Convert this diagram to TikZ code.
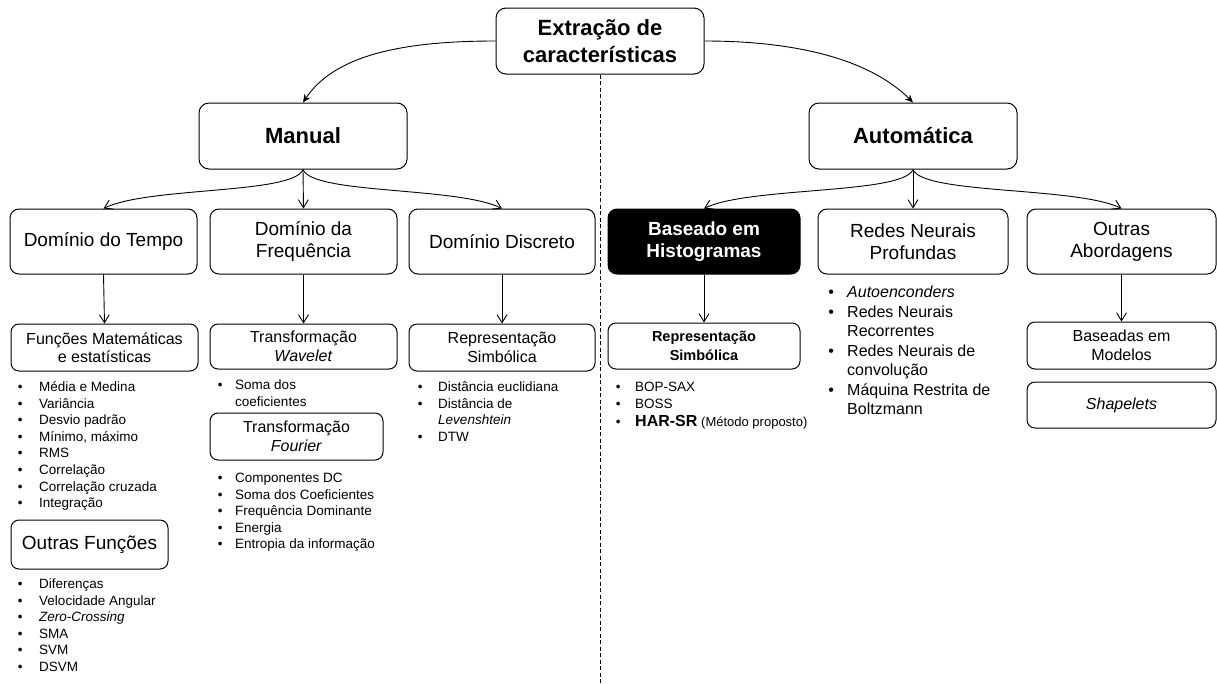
\documentclass[tikz,border=0pt]{standalone}
\usepackage{fontspec}
\setmainfont{Liberation Sans}
\usetikzlibrary{arrows.meta}
\newcommand{\blist}[2]{\begin{tabular}[t]{@{}l@{\hspace{#1}}l@{}}#2\end{tabular}}
\newcommand{\setfs}[2]{\fontsize{#1}{#2}\selectfont}
\begin{document}
\begin{tikzpicture}[x=1pt,y=1pt,
  box/.style={draw, line width=1pt, rounded corners=8pt, align=center, inner sep=0pt},
  lvl1/.style={box, rounded corners=10pt, minimum width=208pt, minimum height=66pt, font=\setfs{22}{27}\bfseries},
  lvl2/.style={box, rounded corners=9pt, minimum height=65pt, font=\setfs{19}{22}},
  lvl3/.style={box, font=\setfs{16}{18.5}},
  arr/.style={line width=0.9pt, -{Straight Barb[length=8pt,width=10pt]}},
  tarr/.style={line width=0.9pt, -{Stealth[length=8pt,width=7pt]}},
  lst/.style={anchor=base west, inner sep=0pt, font=\setfs{13.5}{16.6}},
]
\useasboundingbox (0,0) rectangle (1217,-683);

% top
\node[lvl1] (title) at (600,-41) {Extração de\\características};
\node[lvl1] (manual) at (303,-136) {Manual};
\node[lvl1] (auto) at (913,-136) {Automática};

% level 2
\node[lvl2, minimum width=187pt] (tempo) at (103.5,-241.5) {Domínio do Tempo};
\node[lvl2, minimum width=187pt] (freq) at (303.5,-241.5) {Domínio da\\Frequência};
\node[lvl2, minimum width=186pt] (disc) at (502,-241.5) {Domínio Discreto};
\node[lvl2, minimum width=192pt, fill=black, text=white, font=\setfs{19}{22}\bfseries] (hist) at (704,-241.5) {Baseado em\\Histogramas};
\node[lvl2, minimum width=190pt] (redes) at (913,-241.5) {Redes Neurais\\Profundas};
\node[lvl2, minimum width=189pt] (outras) at (1121.5,-241.5) {Outras\\Abordagens};

% level 3
\node[lvl3, minimum width=187pt, minimum height=47pt] (func) at (104.5,-347.5) {Funções Matemáticas\\e estatísticas};
\node[lvl3, minimum width=157pt, minimum height=49pt, font=\setfs{19}{22}] (outf) at (89.5,-544.5) {Outras Funções};
\node[lvl3, minimum width=187pt, minimum height=45pt] (wave) at (303.5,-346.5) {Transformação\\\textit{Wavelet}};
\node[lvl3, minimum width=173pt, minimum height=47pt] (four) at (296.5,-436.5) {Transformação\\\textit{Fourier}};
\node[lvl3, minimum width=186pt, minimum height=47pt] (repr) at (502,-347.5) {Representação\\Simbólica};
\node[lvl3, minimum width=192pt, minimum height=46pt, font=\setfs{14.5}{19}\bfseries] (hrepr) at (704,-346) {Representação\\Simbólica};
\node[lvl3, minimum width=189pt, minimum height=47pt] (model) at (1121.5,-345.5) {Baseadas em\\Modelos};
\node[lvl3, minimum width=189pt, minimum height=46pt] (shape) at (1121.5,-405) {\textit{Shapelets}};

% lists
\node[lst] (l1) at (17.7,-391.5) {\blist{16.6pt}{%
  • & Média e Medina\\
  • & Variância\\
  • & Desvio padrão\\
  • & Mínimo, máximo\\
  • & RMS\\
  • & Correlação\\
  • & Correlação cruzada\\
  • & Integração}};
\node[lst] (l2) at (17.7,-588.5) {\blist{16.6pt}{%
  • & Diferenças\\
  • & Velocidade Angular\\
  • & \textit{Zero-Crossing}\\
  • & SMA\\
  • & SVM\\
  • & DSVM}};
\node[lst] (l3) at (217.7,-389.5) {\blist{12.6pt}{%
  • & Soma dos\\
    & coeficientes}};
\node[lst] (l4) at (217.7,-482.5) {\blist{12.6pt}{%
  • & Componentes DC\\
  • & Soma dos Coeficientes\\
  • & Frequência Dominante\\
  • & Energia\\
  • & Entropia da informação}};
\node[lst] (l5) at (417.7,-391.5) {\blist{15.6pt}{%
  • & Distância euclidiana\\
  • & Distância de\\
    & \textit{Levenshtein}\\
  • & DTW}};
\node[lst] (l6) at (615.7,-391.5) {\blist{14.6pt}{%
  • & BOP-SAX\\
  • & BOSS\\[1.5pt]
  • & {\setfs{16}{16}\bfseries HAR-SR} {\setfs{13}{14}(Método proposto)}}};
\node[lst, font=\setfs{16}{19.5}] (l7) at (828.2,-297.5) {\blist{13.2pt}{%
  • & \textit{Autoenconders}\\
  • & Redes Neurais\\
    & Recorrentes\\
  • & Redes Neurais de\\
    & convolução\\
  • & Máquina Restrita de\\
    & Boltzmann}};

% dashed separator
\coordinate (dashend) at (600,-683);
\draw[line width=0.8pt, dash pattern=on 4pt off 2.5pt] (title.south) -- (dashend);

% connectors
\draw[tarr] (title.west) .. controls +(-100,0) and +(30,45) .. (manual.north);
\draw[tarr] (title.east) .. controls +(100,0) and +(-40,40) .. (auto.north);

\draw[arr] (manual.south) .. controls +(-10,-25) and +(45,22) .. (tempo.north);
\draw[arr] (manual.south) -- (freq.north);
\draw[arr] (manual.south) .. controls +(10,-25) and +(-45,22) .. (disc.north);

\draw[arr] (auto.south) .. controls +(-10,-25) and +(45,22) .. (hist.north);
\draw[arr] (auto.south) -- (redes.north);
\draw[arr] (auto.south) .. controls +(10,-25) and +(-45,22) .. (outras.north);

\draw[arr] (tempo.south) -- (func.north);
\draw[arr] (freq.south) -- (wave.north);
\draw[arr] (disc.south) -- (repr.north);
\draw[arr] (hist.south) -- (hrepr.north);
\draw[arr] (outras.south) -- (model.north);
\end{tikzpicture}
\end{document}
